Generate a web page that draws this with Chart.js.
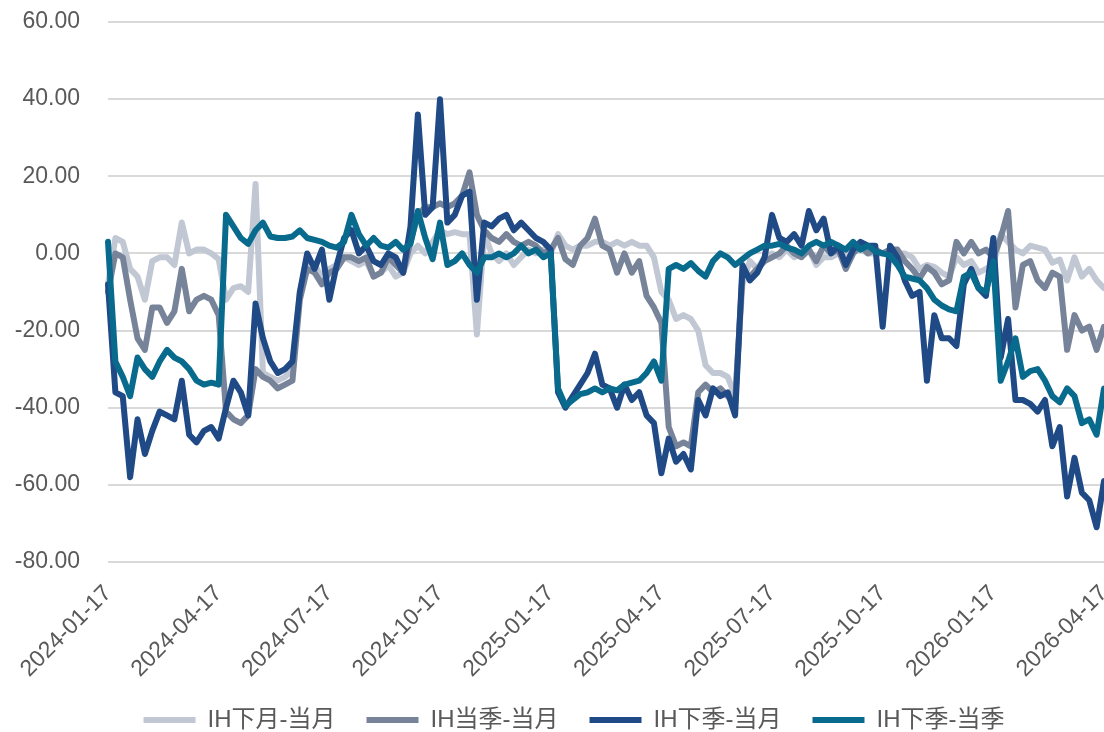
<!DOCTYPE html>
<html>
<head>
<meta charset="utf-8">
<title>IH spreads</title>
<script src="https://cdn.jsdelivr.net/npm/chart.js@4.4.1/dist/chart.umd.min.js"></script>
<style>
    html, body { margin: 0; padding: 0; background: #ffffff; }
    #wrap { width: 1104px; height: 732px; position: relative; }
</style>
</head>
<body>
<div id="wrap"><canvas id="spreadChart"></canvas></div>
<script>
// Tick labels on the date axis (one every 15 points)
const tickDates = ['2024-01-17', '2024-04-17', '2024-07-17', '2024-10-17', '2025-01-17',
    '2025-04-17', '2025-07-17', '2025-10-17', '2026-01-17', '2026-04-17'];
const TICK_EVERY = 15;

const seriesNames = ['IH下月-当月', 'IH当季-当月', 'IH下季-当月', 'IH下季-当季'];
const seriesColors = ['#c1c8d4', '#778399', '#1f4a86', '#086b8d'];

// IH下月-当月
const nextMonth = [
    -8, 4, 3, -4, -6, -12, -2, -1, -1, -3, 8, 0, 1, 1, 0, -1.5,
    -12, -9, -8.5, -10, 18, -31, -32, -33, -32, -30, -10, -2, -3, -6, -4, -3,
    -1, -2, -3, -2, -6, -5, -3, -6, -5, 0, 2, 0, 3, 6, 5, 5.5,
    5, 5, -21, 5, 0, -2, 0, -3, -1, 1, 0, 1, 0, 5, 2, 1,
    2, 2, 3, 3, 2, 3, 2, 3, 2, 2, -1, -10, -12, -17, -16, -17,
    -20, -29, -31, -31, -32, -37, -8, -2, -4, -1, 0, -1, 1, -1, 0, 1,
    -3, -1, -1, 0, -1, 1, 1, 0, 0, 0, 1, 0, 0, -1, -4, -3,
    -3.5, -5, -6, -1, -3, -2, -5, -4, -3, 5, 3, 1, 0, 2, 1.5, 1,
    -2.4, -1.6, -7, -1, -6, -4, -7, -9
];

// IH当季-当月
const curQuarter = [
    -10, 0, -1, -12, -22, -25, -14, -14, -18, -15, -4, -15, -12, -11, -12, -16,
    -41, -43, -44, -42, -30, -32, -33, -35, -34, -33, -12, -4, -5, -8, -5, -4,
    -1, -1, -2, -1, -6, -5, -1, -3, -5, 3, 10, 12, 12, 13, 12, 13,
    15, 21, 10, 6, 4, 3, 5, 3, 2, 3, 2, 0, 1, 4, -1.5, -3,
    2, 4, 9, 2, 1, -5, 0, -5, -2, -11, -14, -18, -45, -50, -49, -50,
    -36, -34, -36, -35, -37, -39, -5, -6, -4, -2, -1, 0, 2, 0, -1, 1,
    -2, 2, 0, 1, -4, 0, 2, 0, 1, 0, 1, 1, -2, -4, -6.5, -3.5,
    -5, -8, -7, 3, 0, 3, 0, 1, -1, 4, 11, -14, -3, -2, -7, -9,
    -5, -6, -25, -16, -20, -19, -25, -19
];

// IH下季-当月
const nextQuarterMonth = [
    -8, -36, -37, -58, -43, -52, -46, -41, -42, -43, -33, -47, -49, -46, -45, -48,
    -40, -33, -36, -42, -13, -22, -28, -31, -30, -28, -10, 0, -4, 1, -12, -3,
    4, 6, 0, 2, -2, -3, 0, -1, -5, 7, 36, 10, 12, 40, 8, 10,
    15, 16, -12, 8, 7, 9, 10, 6, 8, 6, 4, 3, 1, -36, -40, -37,
    -34, -31, -26, -34, -35, -40, -34, -38, -36, -42, -44, -57, -48, -54, -52, -56,
    -38, -42, -35, -37, -36, -42, -3, -7, -5, -1, 10, 4, 3, 5, 2, 11,
    6, 9, 0, 2, -3, 1, 3, 2, 2, -19, 2, -1, -7, -11, -10, -33,
    -16, -22, -22, -24, -8, -4, -9, -11, 4, -27, -17, -38, -38, -39, -41, -38,
    -50, -45, -63, -53, -62, -64, -71, -59
];

// IH下季-当季
const nextQuarterCur = [
    3, -28, -32, -37, -27, -30, -32, -28, -25, -27, -28, -30, -33, -34, -33.5, -34,
    10, 7, 4, 2.5, 6, 8, 4.4, 4, 4, 4.4, 6, 4, 3.5, 3, 2, 1.5,
    3, 10, 5, 2, 4, 2, 1.5, 3, 1, 2.5, 11, 4, -1.5, 8, -3, -2,
    0, -3, -5, -1, -1, 0, -1, 0, 2, 0, 1, -1, 0, -35, -39.5, -38,
    -36.5, -36, -35, -36, -35, -35.5, -34, -33.5, -33, -31, -28, -33, -4, -3, -4, -2.5,
    -4.5, -6, -2, 0, -1, -3, -1.5, 0, 1, 2, 2, 2.5, 1.5, 1, 0, 2,
    3, 2, 3, 2, 1, 3, 1, 2, 0.5, 0, -0.5, -3, -6, -6.5, -7, -9,
    -12, -13.5, -14.5, -15, -6, -5, -9, -10, -2, -33, -28, -22, -32, -30.5, -30, -33,
    -37, -38.6, -35, -37, -44, -43, -47, -35
];

const FONT = '"Liberation Sans", Arial, "Noto Sans CJK SC", sans-serif';
const TEXT_COLOR = '#595959';

// Place the bottom legend where the original one sits
const legendShift = {
    id: 'legendShift',
    afterLayout(chart) {
        const lg = chart.legend;
        if (!lg) return;
        lg.left += 17;
        lg.right += 17;
        lg.top = chart.height - 55;
        lg.bottom = chart.height;
        lg.height = 55;
    }
};

document.addEventListener('DOMContentLoaded', function() {
    drawChart();
});

// Build one line dataset
function makeDataset(idx, values) {
    return {
        label: seriesNames[idx],
        data: values,
        borderColor: seriesColors[idx],
        backgroundColor: seriesColors[idx],
        borderWidth: 6,
        borderCapStyle: 'round',
        borderJoinStyle: 'round',
        pointRadius: 0,
        tension: 0,
        fill: false,
        order: 4 - idx   // later series drawn on top
    };
}

function drawChart() {
    const ctx = document.getElementById('spreadChart').getContext('2d');
    const pointLabels = nextMonth.map((v, i) => String(i));

    new Chart(ctx, {
        type: 'line',
        data: {
            labels: pointLabels,
            datasets: [
                makeDataset(0, nextMonth),
                makeDataset(1, curQuarter),
                makeDataset(2, nextQuarterMonth),
                makeDataset(3, nextQuarterCur)
            ]
        },
        plugins: [legendShift],
        options: {
            responsive: true,
            maintainAspectRatio: false,
            animation: false,
            layout: {
                padding: { left: 10, right: 0, top: 22, bottom: 0 }
            },
            plugins: {
                tooltip: { enabled: false },
                legend: {
                    position: 'bottom',
                    maxHeight: 30,
                    labels: {
                        usePointStyle: true,
                        pointStyle: 'line',
                        pointStyleWidth: 52,
                        padding: 31,
                        color: TEXT_COLOR,
                        font: { family: FONT, size: 24 },
                        sort: (a, b) => a.datasetIndex - b.datasetIndex
                    }
                }
            },
            scales: {
                x: {
                    grid: { display: false },
                    border: { display: false },
                    ticks: {
                        autoSkip: false,
                        minRotation: 45,
                        maxRotation: 45,
                        padding: 10,
                        color: TEXT_COLOR,
                        font: { family: FONT, size: 23 },
                        callback: function(val, idx) {
                            return idx % TICK_EVERY === 0 ? tickDates[idx / TICK_EVERY] : '';
                        }
                    },
                    afterFit: function(axis) {
                        axis.paddingLeft = 0;
                        axis.paddingRight = 0;
                        axis.height = 140;
                    }
                },
                y: {
                    min: -80,
                    max: 60,
                    border: { display: false },
                    grid: { color: '#d9d9d9', lineWidth: 2, drawTicks: false },
                    ticks: {
                        stepSize: 20,
                        padding: 28,
                        color: TEXT_COLOR,
                        font: { family: FONT, size: 23 },
                        callback: v => v.toFixed(2)
                    },
                    afterFit: function(axis) {
                        axis.width = 98;
                        axis.paddingTop = 0;
                        axis.paddingBottom = 0;
                    }
                }
            }
        }
    });
}
</script>
</body>
</html>
